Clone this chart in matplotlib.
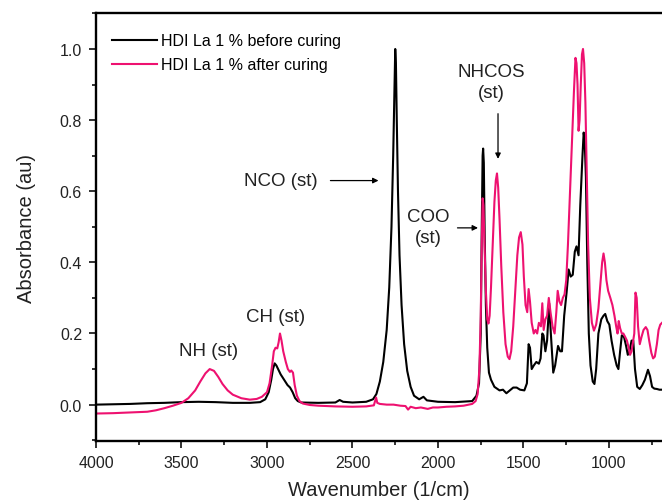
import matplotlib
matplotlib.use('Agg')
import matplotlib.pyplot as plt
from matplotlib.ticker import MultipleLocator

plt.rcParams['font.family'] = ['Liberation Sans', 'DejaVu Sans']

# FTIR spectrum, HDI La 1 % before curing (wavenumber, absorbance)
wn_before = [4000, 3900, 3800, 3700, 3600, 3500, 3400, 3300, 3200, 3100, 3040, 3010, 2990,
             2975, 2965, 2955, 2945, 2935, 2920, 2900, 2880, 2865, 2850, 2835, 2820, 2800,
             2700, 2600, 2575, 2555, 2500, 2420, 2380, 2360, 2340, 2320, 2300, 2285, 2272,
             2262, 2255, 2250, 2246, 2241, 2234, 2225, 2213, 2198, 2180, 2160, 2140, 2110,
             2085, 2065, 2000, 1900, 1800, 1775, 1760, 1750, 1744, 1739, 1736, 1732, 1727,
             1720, 1712, 1702, 1690, 1670, 1640, 1620, 1600, 1580, 1560, 1540, 1520, 1495,
             1480, 1470, 1462, 1452, 1440, 1425, 1410, 1400, 1390, 1383, 1372, 1362, 1350,
             1340, 1326, 1315, 1298, 1285, 1275, 1262, 1248, 1236, 1224, 1212, 1200, 1190,
             1178, 1168, 1155, 1148, 1142, 1135, 1127, 1118, 1108, 1095, 1085, 1075, 1062,
             1045, 1032, 1022, 1010, 998, 985, 970, 955, 945, 935, 925, 912, 900, 890, 880,
             868, 858, 848, 835, 820, 805, 790, 772, 760, 748, 735, 720, 705, 690]
abs_before = [0.000, 0.001, 0.002, 0.004, 0.005, 0.007, 0.008, 0.007, 0.005, 0.005, 0.007,
              0.015, 0.035, 0.070, 0.100, 0.116, 0.110, 0.100, 0.085, 0.070, 0.055, 0.048,
              0.035, 0.018, 0.010, 0.006, 0.005, 0.006, 0.013, 0.008, 0.006, 0.008, 0.015,
              0.030, 0.065, 0.120, 0.210, 0.330, 0.500, 0.700, 0.870, 1.000, 0.960, 0.800,
              0.600, 0.420, 0.280, 0.170, 0.095, 0.050, 0.025, 0.015, 0.022, 0.012, 0.008,
              0.007, 0.010, 0.025, 0.060, 0.200, 0.500, 0.700, 0.720, 0.680, 0.480, 0.280,
              0.160, 0.090, 0.070, 0.050, 0.040, 0.042, 0.032, 0.040, 0.048, 0.048, 0.042,
              0.040, 0.060, 0.170, 0.160, 0.100, 0.110, 0.120, 0.115, 0.130, 0.200, 0.195,
              0.150, 0.180, 0.285, 0.200, 0.090, 0.110, 0.165, 0.150, 0.150, 0.250, 0.315,
              0.380, 0.360, 0.365, 0.430, 0.445, 0.420, 0.560, 0.700, 0.765, 0.740, 0.640,
              0.400, 0.200, 0.110, 0.065, 0.058, 0.100, 0.200, 0.240, 0.250, 0.255, 0.235,
              0.225, 0.180, 0.140, 0.110, 0.100, 0.150, 0.195, 0.190, 0.165, 0.140, 0.150,
              0.180, 0.180, 0.100, 0.050, 0.044, 0.055, 0.070, 0.098, 0.080, 0.050, 0.045,
              0.044, 0.042, 0.042]

# FTIR spectrum, HDI La 1 % after curing
wn_after = [4000, 3900, 3800, 3700, 3650, 3600, 3550, 3500, 3460, 3420, 3390, 3360, 3335,
            3310, 3285, 3260, 3230, 3200, 3150, 3100, 3060, 3030, 3000, 2985, 2970, 2960,
            2950, 2940, 2932, 2924, 2915, 2905, 2890, 2878, 2866, 2858, 2848, 2838, 2825,
            2810, 2790, 2750, 2700, 2600, 2500, 2420, 2375, 2362, 2355, 2340, 2300, 2260,
            2220, 2190, 2175, 2160, 2130, 2100, 2060, 2030, 2000, 1950, 1900, 1850, 1800,
            1780, 1768, 1758, 1750, 1744, 1739, 1734, 1728, 1720, 1712, 1705, 1698, 1690,
            1680, 1670, 1662, 1655, 1648, 1640, 1630, 1618, 1605, 1592, 1582, 1572, 1560,
            1548, 1536, 1526, 1516, 1506, 1498, 1488, 1478, 1470, 1462, 1452, 1440, 1430,
            1420, 1410, 1398, 1390, 1382, 1372, 1362, 1352, 1342, 1330, 1318, 1308, 1300,
            1290, 1280, 1270, 1260, 1250, 1240, 1228, 1215, 1205, 1196, 1190, 1184, 1178,
            1172, 1165, 1158, 1152, 1145, 1138, 1130, 1122, 1112, 1100, 1088, 1075, 1062,
            1050, 1040, 1032, 1024, 1015, 1005, 992, 980, 968, 958, 950, 943, 935, 925, 916,
            905, 895, 885, 877, 868, 860, 852, 845, 838, 830, 820, 810, 798, 785, 775, 765,
            752, 742, 732, 720, 710, 700, 690]
abs_after = [-0.025, -0.024, -0.022, -0.020, -0.016, -0.010, -0.003, 0.005, 0.018, 0.040,
             0.065, 0.088, 0.100, 0.095, 0.078, 0.058, 0.040, 0.028, 0.018, 0.014, 0.016,
             0.022, 0.035, 0.060, 0.110, 0.150, 0.160, 0.158, 0.175, 0.200, 0.180, 0.150,
             0.120, 0.100, 0.092, 0.096, 0.090, 0.055, 0.025, 0.010, 0.003, -0.001, -0.003,
             -0.005, -0.006, -0.005, -0.002, 0.020, 0.005, 0.002, 0.000, 0.000, -0.003,
             -0.004, -0.014, -0.006, -0.010, -0.008, -0.012, -0.008, -0.008, -0.006, -0.005,
             -0.003, 0.002, 0.010, 0.030, 0.100, 0.250, 0.450, 0.580, 0.560, 0.450, 0.320,
             0.240, 0.228, 0.250, 0.330, 0.450, 0.570, 0.630, 0.650, 0.610, 0.520, 0.390,
             0.260, 0.170, 0.135, 0.128, 0.150, 0.220, 0.320, 0.420, 0.470, 0.485, 0.450,
             0.360, 0.280, 0.260, 0.325, 0.290, 0.230, 0.200, 0.210, 0.200, 0.230, 0.220,
             0.285, 0.210, 0.240, 0.250, 0.300, 0.260, 0.220, 0.200, 0.260, 0.320, 0.290,
             0.280, 0.300, 0.310, 0.350, 0.450, 0.600, 0.760, 0.880, 0.975, 0.960, 0.900,
             0.770, 0.800, 0.900, 0.985, 1.000, 0.960, 0.850, 0.650, 0.450, 0.300, 0.230,
             0.208, 0.225, 0.270, 0.340, 0.400, 0.425, 0.400, 0.350, 0.320, 0.300, 0.280,
             0.250, 0.220, 0.200, 0.235, 0.215, 0.200, 0.200, 0.190, 0.180, 0.160, 0.140,
             0.150, 0.175, 0.200, 0.315, 0.300, 0.220, 0.170, 0.190, 0.210, 0.218, 0.210,
             0.180, 0.145, 0.130, 0.135, 0.170, 0.210, 0.225, 0.230]

labels = ['HDI La 1 % before curing', 'HDI La 1 % after curing']
colors = ['black', '#EE1170']

fig = plt.figure(figsize=(6.62, 5.02), dpi=100)
ax = fig.add_axes([0.145, 0.119, 0.855, 0.853])

ax.plot(wn_before, abs_before, color=colors[0], lw=1.5, label=labels[0])
ax.plot(wn_after, abs_after, color=colors[1], lw=1.5, label=labels[1])

ax.set_xlim(4000, 690)
ax.set_ylim(-0.103, 1.101)
ax.xaxis.set_major_locator(MultipleLocator(500))
ax.xaxis.set_minor_locator(MultipleLocator(250))
ax.yaxis.set_major_locator(MultipleLocator(0.2))
ax.yaxis.set_minor_locator(MultipleLocator(0.1))
ax.set_yticks([0.0, 0.2, 0.4, 0.6, 0.8, 1.0])
ax.tick_params(which='both', direction='out', labelsize=11.5, width=1.3, color='#222222',
               labelcolor='#222222')
ax.tick_params(which='major', length=5, pad=5)
ax.tick_params(which='minor', length=3)
for s in ['left', 'bottom', 'top']:
    ax.spines[s].set_linewidth(1.7)
ax.spines['right'].set_visible(False)

ax.set_xlabel('Wavenumber (1/cm)', fontsize=14.5, labelpad=7, color='#222222')
ax.set_ylabel('Absorbance (au)', fontsize=14.5, labelpad=17, color='#222222')

ax.legend(loc='upper left', frameon=False, fontsize=11.5, handlelength=2.8,
          handletextpad=0.25, labelspacing=0.55, bbox_to_anchor=(0.0, 0.99),
          borderaxespad=0.6)

# peak annotations
txt = dict(fontsize=13.5, color='#222222', ha='center', va='center', linespacing=1.35)
arr = dict(arrowstyle='-|>', lw=0.9, color='black', mutation_scale=8, shrinkA=0, shrinkB=0)
ax.text(3339, 0.151, 'NH (st)', **txt)
ax.text(2947, 0.248, 'CH (st)', **txt)
ax.text(2918, 0.63, 'NCO (st)', **txt)
ax.annotate('', xy=(2348, 0.63), xytext=(2629, 0.63), arrowprops=arr)
ax.text(2058, 0.50, 'COO\n(st)', **txt)
ax.annotate('', xy=(1766, 0.497), xytext=(1886, 0.497), arrowprops=arr)
ax.text(1690, 0.907, 'NHCOS\n(st)', **txt)
ax.annotate('', xy=(1649, 0.691), xytext=(1649, 0.818), arrowprops=arr)

fig.savefig('out.png', dpi=100)
